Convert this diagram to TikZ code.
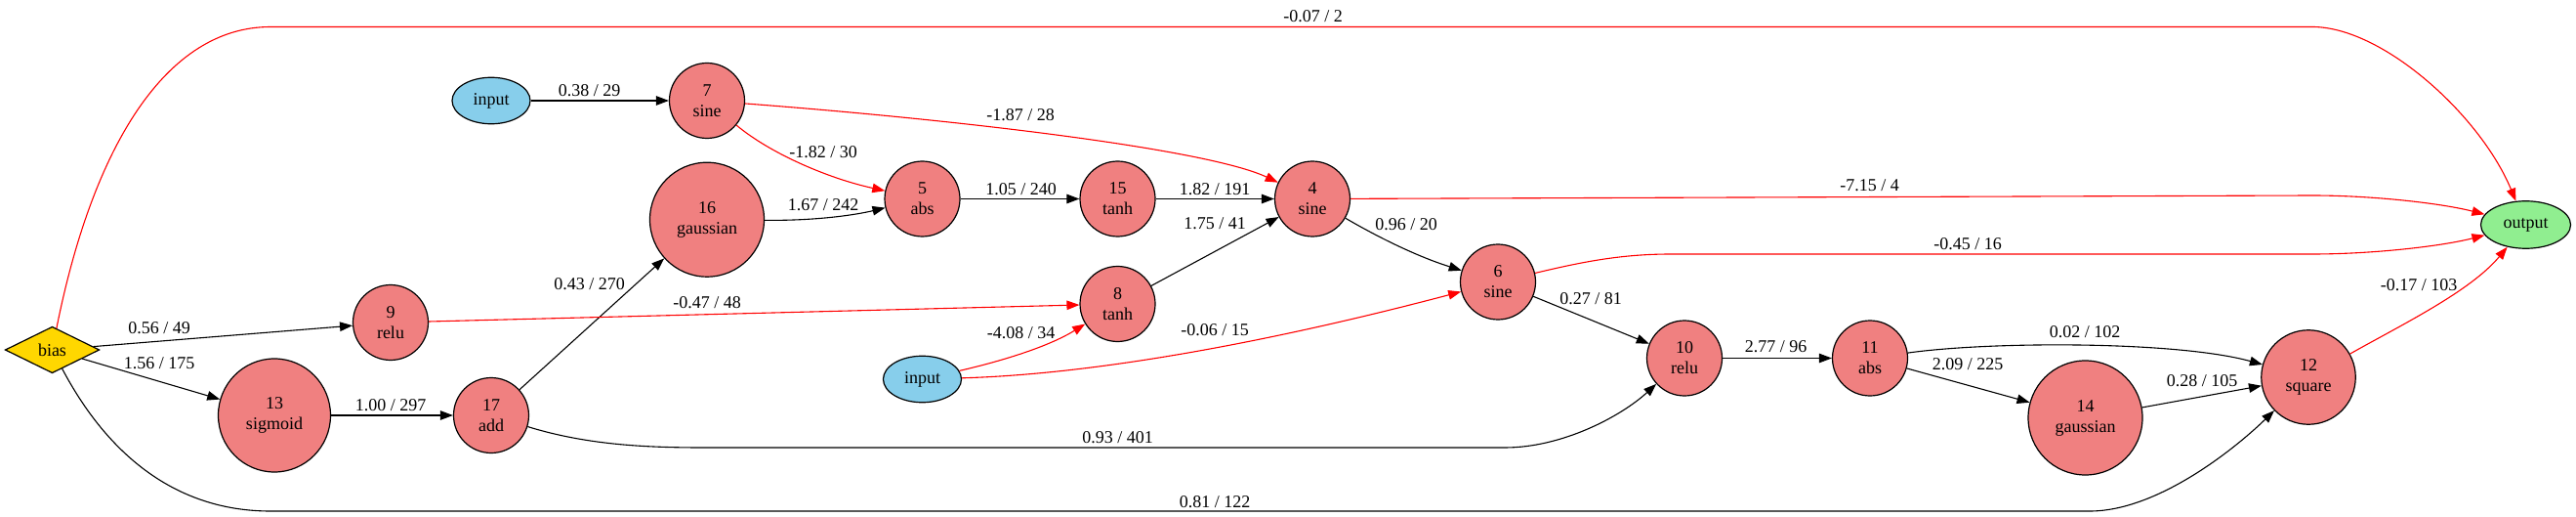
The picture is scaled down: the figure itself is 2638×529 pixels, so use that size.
\documentclass[tikz,border=0pt]{standalone}
\usepackage{fontspec}
\setmainfont{Liberation Serif}
\usetikzlibrary{shapes.geometric,arrows.meta}
\definecolor{nodecoral}{HTML}{F08080}
\definecolor{inblue}{HTML}{87CEEB}
\definecolor{outgreen}{HTML}{90EE90}
\definecolor{biasgold}{HTML}{FFD700}
\definecolor{edgered}{HTML}{FF0000}
\tikzset{
  gnode/.style={ellipse, draw=black, line width=1.2pt, fill=nodecoral, inner sep=0pt, align=center},
  smallnode/.style={gnode, minimum width=77pt, minimum height=77pt},
  bignode/.style={gnode, minimum width=117pt, minimum height=117pt},
  midnode/.style={gnode, minimum width=96.5pt, minimum height=96.5pt},
  innode/.style={ellipse, draw=black, line width=1.2pt, fill=inblue, inner sep=0pt, minimum width=80pt, minimum height=47.5pt},
  outnode/.style={ellipse, draw=black, line width=1.2pt, fill=outgreen, inner sep=0pt, minimum width=92pt, minimum height=48.5pt},
  biasnode/.style={diamond, draw=black, line width=1.2pt, fill=biasgold, inner sep=0pt, minimum width=96.5pt, minimum height=47.5pt},
  posedge/.style={draw=black, line width=1.1pt, -{Triangle[length=13pt,width=9.5pt]}},
  negedge/.style={draw=edgered, line width=1.1pt, -{Triangle[length=13pt,width=9.5pt]}},
  elabel/.style={inner sep=0pt, anchor=center},
}
\begin{document}
\begin{tikzpicture}[x=1pt,y=-1pt,font=\fontsize{18}{21}\selectfont]
\useasboundingbox[fill=white] (0,0) rectangle (2638,529);
% nodes
\node[biasnode] (bias) at (53.5,358) {bias};
\node[innode] (in1) at (503,103) {input};
\node[innode] (in2) at (944.5,388) {input};
\node[smallnode] (n7) at (724,103) {7\\sine};
\node[bignode] (n16) at (724,224.7) {16\\gaussian};
\node[smallnode] (n9) at (400,330) {9\\relu};
\node[bignode, minimum width=115pt, minimum height=116pt] (n13) at (281,425) {13\\sigmoid};
\node[smallnode] (n17) at (503,425) {17\\add};
\node[smallnode] (n5) at (944.5,203.5) {5\\abs};
\node[smallnode] (n15) at (1144.5,203.5) {15\\tanh};
\node[smallnode] (n4) at (1344,203.5) {4\\sine};
\node[smallnode] (n8) at (1144.5,311) {8\\tanh};
\node[smallnode] (n6) at (1534,288.5) {6\\sine};
\node[smallnode] (n10) at (1725,366.5) {10\\relu};
\node[smallnode] (n11) at (1915,366.5) {11\\abs};
\node[bignode] (n14) at (2135.5,427.5) {14\\gaussian};
\node[midnode] (n12) at (2364,386) {12\\square};
\node[outnode] (out) at (2586.5,230) {output};
% routing points
\coordinate (t1) at (277,27.5);
\coordinate (t2) at (2368,27.5);
\coordinate (b1) at (277,523);
\coordinate (b2) at (2140,523);
\coordinate (c1) at (720,458);
\coordinate (c2) at (1541,458);
\coordinate (d1) at (2368,200);
\coordinate (e1) at (1711,260);
\coordinate (e2) at (2368,260);
% edges
\draw[negedge] (bias) .. controls (95,150) and (170,27.5) .. (t1) -- (t2) .. controls (2440,27.5) and (2540,118) .. (out);
\draw[posedge] (bias) .. controls (110,465) and (180,523) .. (b1) -- (b2) .. controls (2210,523) and (2290,458) .. (n12);
\draw[posedge] (bias) -- (n9);
\draw[posedge] (bias) -- (n13);
\draw[posedge] (in1) -- (n7);
\draw[posedge] (n13) -- (n17);
\draw[posedge] (n17) -- (n16);
\draw[posedge] (n17) .. controls (600,455) and (660,458) .. (c1) -- (c2) .. controls (1600,458) and (1660,426) .. (n10);
\draw[negedge] (n9) -- (n8);
\draw[negedge] (n7) .. controls (1000,124) and (1240,154) .. (n4);
\draw[negedge] (n7) .. controls (790,158) and (850,183) .. (n5);
\draw[posedge] (n16) .. controls (840,226) and (880,219) .. (n5);
\draw[posedge] (n5) -- (n15);
\draw[posedge] (n15) -- (n4);
\draw[posedge] (n8) -- (n4);
\draw[negedge] (in2) .. controls (1015,372) and (1070,357) .. (n8);
\draw[negedge] (in2) .. controls (1150,382) and (1350,337) .. (n6);
\draw[negedge] (n4) -- (d1) .. controls (2430,200) and (2500,208) .. (out);
\draw[posedge] (n4) .. controls (1410,242) and (1450,262) .. (n6);
\draw[negedge] (n6) .. controls (1620,268) and (1660,260) .. (e1) -- (e2) .. controls (2430,260) and (2500,252) .. (out);
\draw[posedge] (n6) -- (n10);
\draw[posedge] (n10) -- (n11);
\draw[posedge] (n11) .. controls (2040,349) and (2230,349) .. (n12);
\draw[posedge] (n11) -- (n14);
\draw[posedge] (n14) -- (n12);
\draw[negedge] (n12) .. controls (2460,332) and (2530,298) .. (out);
% edge labels
\node[elabel] (l1) at (1344.5,17) {-0.07 / 2};
\node[elabel] (l2) at (603.5,93) {0.38 / 29};
\node[elabel] (l3) at (1045,118) {-1.87 / 28};
\node[elabel] (l4) at (843,155.5) {-1.82 / 30};
\node[elabel] (l5) at (843,209.5) {1.67 / 242};
\node[elabel] (l6) at (1045.5,193.5) {1.05 / 240};
\node[elabel] (l7) at (1244,193.5) {1.82 / 191};
\node[elabel] (l8) at (1244,229) {1.75 / 41};
\node[elabel] (l9) at (724,310) {-0.47 / 48};
\node[elabel] (l10) at (1045.5,341) {-4.08 / 34};
\node[elabel] (l11) at (1244,338) {-0.06 / 15};
\node[elabel] (l12) at (1144.5,447.5) {0.93 / 401};
\node[elabel] (l13) at (1244,513.5) {0.81 / 122};
\node[elabel] (l14) at (603.5,290.5) {0.43 / 270};
\node[elabel] (l15) at (163,336) {0.56 / 49};
\node[elabel] (l16) at (163,372) {1.56 / 175};
\node[elabel] (l17) at (400,414.5) {1.00 / 297};
\node[elabel] (l18) at (1914.5,189.5) {-7.15 / 4};
\node[elabel] (l19) at (1440,230) {0.96 / 20};
\node[elabel] (l20) at (1629,305.5) {0.27 / 81};
\node[elabel] (l21) at (1818.5,355) {2.77 / 96};
\node[elabel] (l22) at (2015,250) {-0.45 / 16};
\node[elabel] (l23) at (2135,340) {0.02 / 102};
\node[elabel] (l24) at (2015,373) {2.09 / 225};
\node[elabel] (l25) at (2255,389.5) {0.28 / 105};
\node[elabel] (l26) at (2477,291.5) {-0.17 / 103};
\end{tikzpicture}
\end{document}
